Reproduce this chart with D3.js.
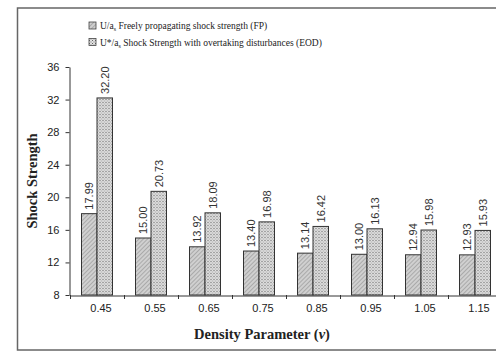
<!DOCTYPE html>
<html>
<head>
<meta charset="utf-8">
<script src="https://cdn.jsdelivr.net/npm/d3@7"></script>
<style>
  body { margin: 0; background: #fff; }
  svg { display: block; }
</style>
</head>
<body>
<div id="chart"></div>
<script>
// Data
const categories = ['0.45', '0.55', '0.65', '0.75', '0.85', '0.95', '1.05', '1.15'];
const fpValues = [17.99, 15.00, 13.92, 13.40, 13.14, 13.00, 12.94, 12.93];
const eodValues = [32.20, 20.73, 18.09, 16.98, 16.42, 16.13, 15.98, 15.93];
const yTicks = [8, 12, 16, 20, 24, 28, 32, 36];
const seriesNames = ['FP', 'EOD'];

const W = 496, H = 352;
const svg = d3.select('#chart').append('svg')
    .attr('width', W)
    .attr('height', H);

// Fill patterns
const defs = svg.append('defs');
const hatch = defs.append('pattern')
    .attr('id', 'hatch')
    .attr('patternUnits', 'userSpaceOnUse')
    .attr('width', 3).attr('height', 3)
    .attr('patternTransform', 'rotate(45)');
hatch.append('rect').attr('width', 3).attr('height', 3).attr('fill', '#d0d0d0');
hatch.append('line').attr('x1', 0).attr('y1', 0).attr('x2', 0).attr('y2', 3)
    .attr('stroke', '#858585').attr('stroke-width', 1);

const dots = defs.append('pattern')
    .attr('id', 'dots')
    .attr('patternUnits', 'userSpaceOnUse')
    .attr('width', 3).attr('height', 3);
dots.append('rect').attr('width', 3).attr('height', 3).attr('fill', '#e2e2e2');
dots.append('rect').attr('x', 0).attr('y', 0).attr('width', 1).attr('height', 1).attr('fill', '#666');
dots.append('rect').attr('x', 1.5).attr('y', 1.5).attr('width', 1).attr('height', 1).attr('fill', '#777');

const fills = {FP: 'url(#hatch)', EOD: 'url(#dots)'};

// Outer frame
svg.append('rect')
    .attr('x', 17.5).attr('y', 8)
    .attr('width', 500).attr('height', 342)
    .attr('fill', 'none')
    .attr('stroke', '#666')
    .attr('stroke-width', 1.5);

// Scales
const x0 = d3.scaleBand()
    .domain(categories)
    .range([70, 502])
    .paddingInner(0)
    .paddingOuter(0);

const x1 = d3.scaleBand()
    .domain(seriesNames)
    .range([0, 31]);

const y = d3.scaleLinear()
    .domain([8, 36])
    .range([295, 67]);

// Y axis
const yAxis = svg.append('g')
    .attr('transform', 'translate(69.5,0)')
    .call(d3.axisLeft(y).tickValues(yTicks).tickSize(4).tickSizeOuter(0));
yAxis.select('.domain').attr('stroke', '#333');
yAxis.selectAll('.tick line').attr('stroke', '#333');
yAxis.selectAll('.tick text')
    .attr('font-family', 'Liberation Sans, Arial, sans-serif')
    .attr('font-size', 11)
    .attr('fill', '#222')
    .attr('x', -10);

// X axis
const xAxis = svg.append('g')
    .attr('transform', 'translate(0,295.5)')
    .call(d3.axisBottom(x0).tickSize(0).tickSizeOuter(0));
xAxis.select('.domain').attr('stroke', '#333');
xAxis.selectAll('.tick text')
    .attr('font-family', 'Liberation Sans, Arial, sans-serif')
    .attr('font-size', 11)
    .attr('fill', '#222')
    .attr('dx', 4)
    .attr('dy', 13);

// tick marks at category boundaries
svg.append('g').selectAll('line')
    .data(categories)
    .enter().append('line')
    .attr('x1', d => Math.round(x0(d)) + 0.5)
    .attr('x2', d => Math.round(x0(d)) + 0.5)
    .attr('y1', 295)
    .attr('y2', 299)
    .attr('stroke', '#333');

// Bars
const rows = categories.map((c, i) => ({cat: c, FP: fpValues[i], EOD: eodValues[i]}));
const groups = svg.append('g').selectAll('g')
    .data(rows)
    .enter().append('g')
    .attr('transform', d => `translate(${x0(d.cat) + (x0.bandwidth() - 31) / 2},0)`);

groups.selectAll('rect')
    .data(d => seriesNames.map(s => ({key: s, value: d[s]})))
    .enter().append('rect')
    .attr('x', d => x1(d.key))
    .attr('y', d => y(d.value))
    .attr('width', x1.bandwidth())
    .attr('height', d => y(8) - y(d.value))
    .attr('fill', d => fills[d.key])
    .attr('stroke', '#333')
    .attr('stroke-width', 1);

// Value labels
groups.selectAll('text')
    .data(d => seriesNames.map(s => ({key: s, value: d[s]})))
    .enter().append('text')
    .attr('transform', d => `translate(${x1(d.key) + x1.bandwidth() / 2 + 4},${y(d.value) - 4}) rotate(-90)`)
    .attr('font-family', 'Liberation Sans, Arial, sans-serif')
    .attr('font-size', 11)
    .attr('fill', '#333')
    .text(d => d.value.toFixed(2));

// Axis titles
svg.append('text')
    .attr('transform', 'translate(37,181) rotate(-90)')
    .attr('text-anchor', 'middle')
    .attr('font-family', 'Liberation Serif, Times New Roman, serif')
    .attr('font-weight', 'bold')
    .attr('font-size', 14.5)
    .attr('fill', '#222')
    .text('Shock Strength');

const xt = svg.append('text')
    .attr('x', 262)
    .attr('y', 339)
    .attr('text-anchor', 'middle')
    .attr('font-family', 'Liberation Serif, Times New Roman, serif')
    .attr('font-weight', 'bold')
    .attr('font-size', 14.5)
    .attr('fill', '#222');
xt.append('tspan').text('Density Parameter  (');
xt.append('tspan').attr('font-style', 'italic').text('v');
xt.append('tspan').text(')');

// Legend
const legendItems = [
    {key: 'FP', pre: 'U/a', post: ' Freely propagating shock strength (FP)'},
    {key: 'EOD', pre: 'U*/a', post: ' Shock Strength with overtaking disturbances (EOD)'}
];
const legend = svg.append('g').attr('transform', 'translate(89,22)');
legendItems.forEach((item, i) => {
    const ly = i * 16.5;
    legend.append('rect')
        .attr('x', 0).attr('y', ly)
        .attr('width', 7).attr('height', 7)
        .attr('fill', fills[item.key])
        .attr('stroke', '#444')
        .attr('stroke-width', 0.8);
    const t = legend.append('text')
        .attr('x', 11).attr('y', ly + 7)
        .attr('font-family', 'Liberation Serif, Times New Roman, serif')
        .attr('font-size', 9.5)
        .attr('fill', '#222');
    t.append('tspan').text(item.pre);
    t.append('tspan').attr('font-size', 6).attr('dy', 2).text('s');
    t.append('tspan').attr('dy', -2).text(item.post);
});
</script>
</body>
</html>
